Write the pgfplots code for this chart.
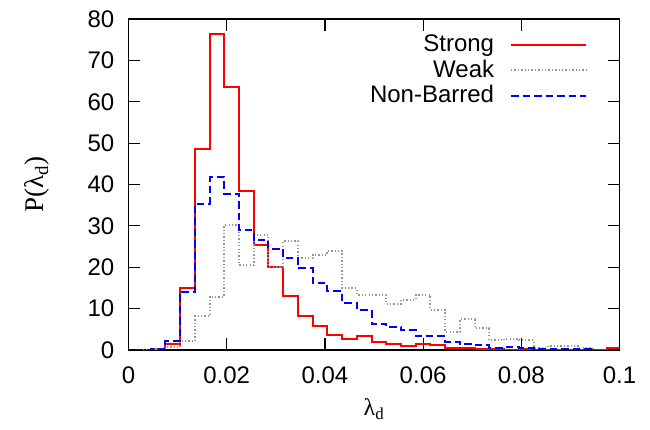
\documentclass[border=0pt]{standalone}
\usepackage{pgfplots}
\pgfplotsset{compat=1.18}
\usepackage{fontspec}
\setmainfont{Liberation Sans}
\newfontfamily\serifa{Liberation Serif}
\definecolor{wgray}{RGB}{150,150,150}
\begin{document}
\fontsize{24}{28}\selectfont
\begin{tikzpicture}
\begin{axis}[
  scale only axis,
  width=491pt, height=331pt,
  xmin=0, xmax=0.1, ymin=0, ymax=80,
  xtick={0,0.02,0.04,0.06,0.08,0.1},
  xticklabels={0,0.02,0.04,0.06,0.08,0.1},
  ytick={0,10,20,30,40,50,60,70,80},
  /pgf/number format/assume math mode=true,
  tick align=inside,
  major tick length=12pt,
  every tick/.style={black, line width=1.2pt},
  axis line style={line width=1.5pt},
  tick label style={font=\fontsize{24}{28}\selectfont},
  xticklabel style={yshift=-9pt},
  yticklabel style={xshift=-6pt},
  xlabel={\serifa λ\textsubscript{d}},
  ylabel={\serifa P(λ\textsubscript{d})},
  xlabel style={font=\fontsize{24}{28}\selectfont, yshift=2pt},
  ylabel style={font=\fontsize{27}{30}\selectfont, yshift=22pt},
  legend style={draw=none, fill=none, inner sep=0pt, outer sep=0pt,
    at={(rel axis cs:0.934,0.958)}, anchor=north east,
    font=\fontsize{24}{26.5}\selectfont,
    row sep=0.5pt,
    /tikz/every odd column/.append style={column sep=14pt}},
  legend plot pos=right,
  legend cell align=right,
  legend image code/.code={\draw[#1] (0pt,0pt) -- (75pt,0pt);},
]
% Strong
\addplot[const plot mark left, color=red, line width=2pt, mark=none] coordinates {
(0.0045,0) (0.0045,0.2) (0.0075,1.5) (0.0105,15.1) (0.0135,48.5) (0.0165,76.3)
(0.0195,63.6) (0.0225,38.4) (0.0255,25.4) (0.0285,20.0) (0.0315,13.0)
(0.0345,8.1) (0.0375,5.8) (0.0405,3.6) (0.0435,2.6) (0.0465,3.4) (0.0495,2.0)
(0.0525,1.45) (0.0555,1.05) (0.0585,1.4) (0.0615,1.1) (0.0645,0.6) (0.0675,0.5)
(0.0705,0.3) (0.0735,0.2) (0.0765,0.1) (0.0795,0.3) (0.0825,0.1) (0.0855,0.1)
(0.0885,0.1) (0.0915,0) (0.0945,0) (0.0975,0.4) (0.1,0.4)
};
\addlegendentry{Strong}
% Weak
\addplot[const plot mark left, color=wgray, line width=2pt, dash pattern=on 1.3pt off 2.1pt, mark=none] coordinates {
(0.0015,0) (0.0045,0.2) (0.0075,0.7) (0.0105,2.1) (0.0135,8.1) (0.0165,12.9)
(0.0195,30.2) (0.0225,20.5) (0.0255,27.8) (0.0285,20.1) (0.0315,26.3)
(0.0345,22.2) (0.0375,23.0) (0.0405,24.0) (0.0435,14.9) (0.0465,13.3) (0.0495,13.3)
(0.0525,11.1) (0.0555,12.1) (0.0585,13.3) (0.0615,9.7) (0.0645,4.4) (0.0675,7.4)
(0.0705,5.2) (0.0735,2.3) (0.0765,2.7) (0.0795,2.3) (0.0825,0.6) (0.0855,1.0)
(0.0885,1.0) (0.0915,0.6) (0.0945,0)
};
\addlegendentry{Weak}
% Non-Barred
\addplot[const plot mark left, color=blue, line width=2pt, dash pattern=on 7.5pt off 4pt, mark=none] coordinates {
(0.0015,0.1) (0.0045,0.3) (0.0075,2.2) (0.0105,14.1) (0.0135,35.4) (0.0165,41.7)
(0.0195,37.7) (0.0225,29.0) (0.0255,26.6) (0.0285,24.5) (0.0315,22.2)
(0.0345,19.7) (0.0375,16.1) (0.0405,14.3) (0.0435,11.4) (0.0465,9.7) (0.0495,6.4)
(0.0525,5.6) (0.0555,4.8) (0.0585,3.4) (0.0615,3.3) (0.0645,2.0) (0.0675,1.45)
(0.0705,1.2) (0.0735,0.6) (0.0765,0.8) (0.0795,0.5) (0.0825,0.3) (0.0855,0.3)
(0.0885,0.3) (0.0915,0.3) (0.0945,0)
};
\addlegendentry{Non-Barred}
\end{axis}
\path ([xshift=-128.5pt,yshift=-80pt]current axis.south west) rectangle ([xshift=30.5pt,yshift=19pt]current axis.north east);
\end{tikzpicture}
\end{document}
